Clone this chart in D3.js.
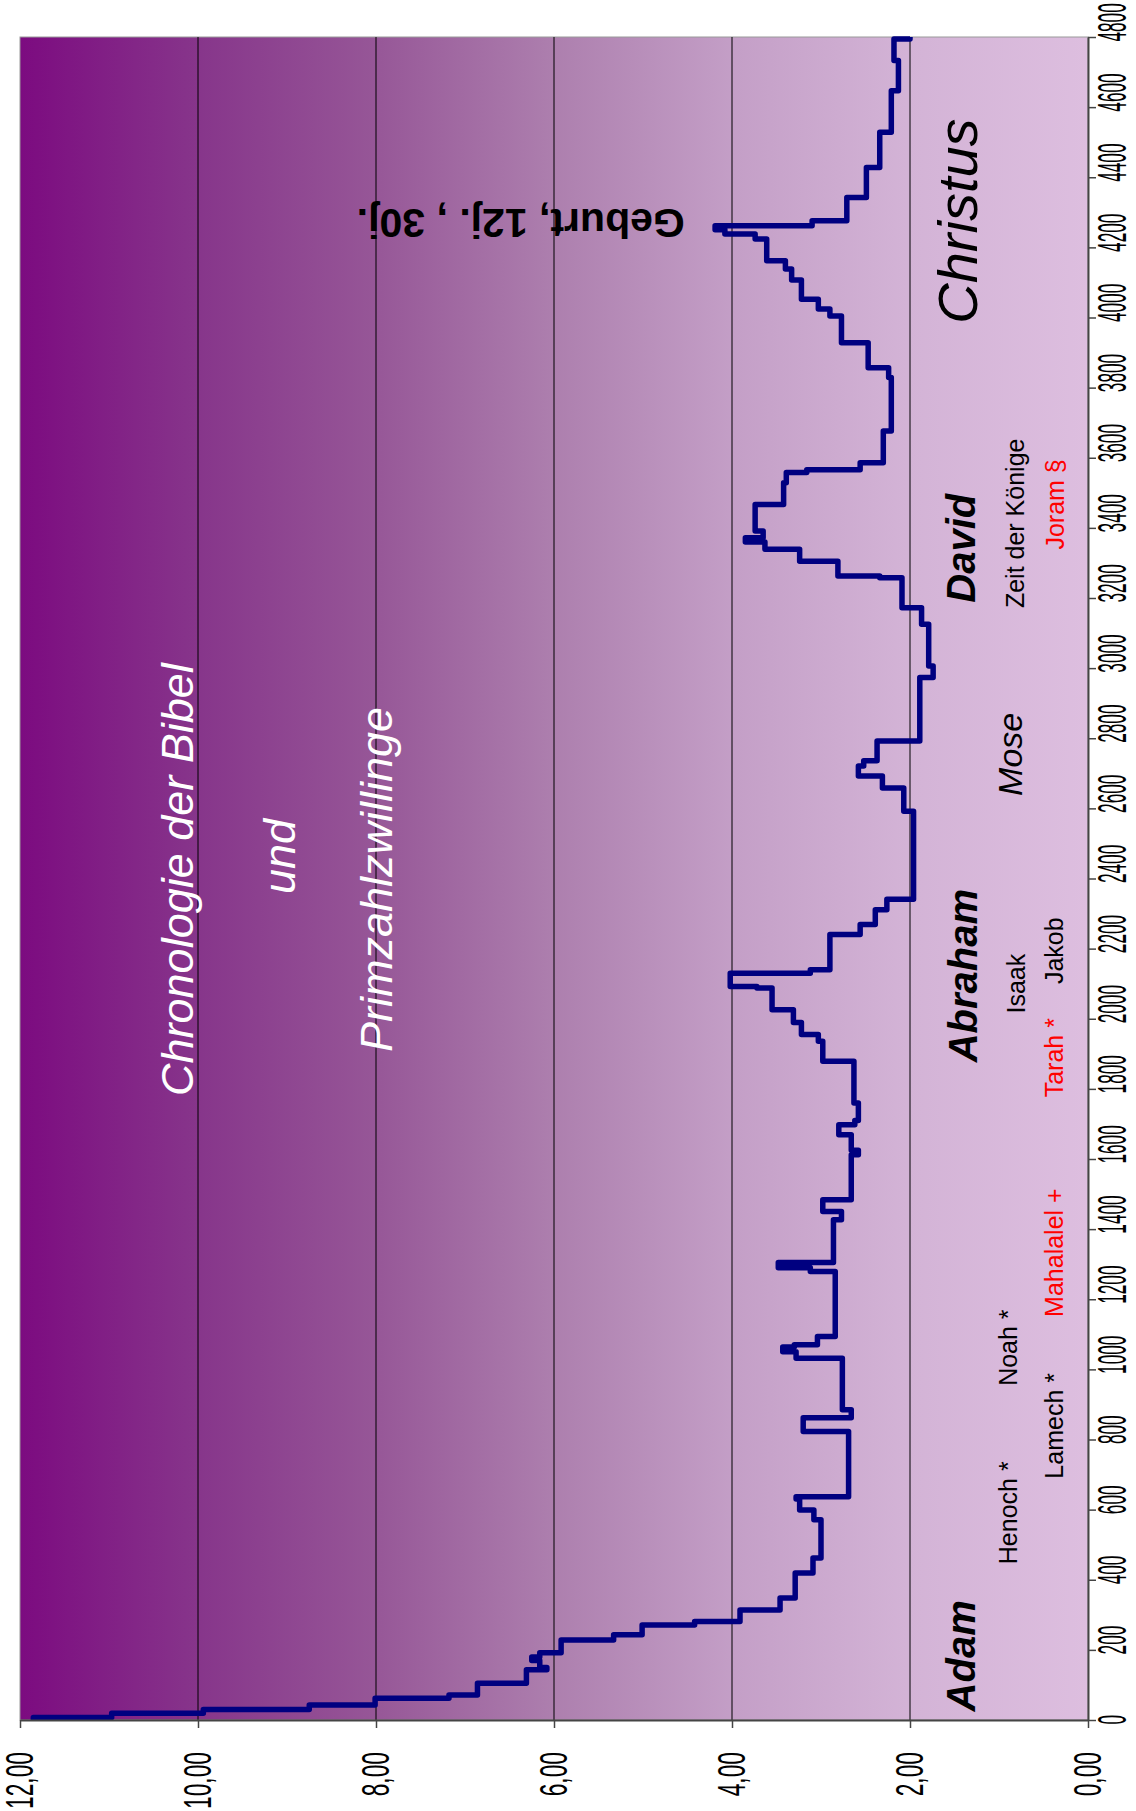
<!DOCTYPE html>
<html>
<head>
<meta charset="utf-8">
<script src="https://cdn.jsdelivr.net/npm/d3@7/dist/d3.min.js"></script>
<style>
  body { margin: 0; background: #fff; }
  svg { display: block; font-family: 'Liberation Sans', Arial, sans-serif; }
</style>
</head>
<body>
<svg id="chart" width="1136" height="1811"></svg>
<script>
// year at which each step starts, and the value held from there on
const years = [
    0, 7, 19, 30, 43, 62, 71, 105, 143, 150, 170, 180, 192, 228, 243, 271, 281, 314, 348, 419,
    462, 571, 599, 630, 637, 823, 862, 885, 1032, 1050, 1064, 1070, 1094, 1279, 1290, 1305, 1427, 1450, 1484, 1612,
    1625, 1669, 1698, 1710, 1760, 1879, 1936, 1955, 1989, 2026, 2088, 2092, 2130, 2140, 2240, 2269, 2311, 2341, 2592, 2658,
    2692, 2721, 2736, 2792, 2973, 3006, 3125, 3172, 3258, 3263, 3305, 3339, 3360, 3372, 3391, 3467, 3529, 3558, 3566, 3586,
    3676, 3829, 3857, 3928, 4004, 4024, 4052, 4107, 4138, 4162, 4224, 4238, 4250, 4262, 4276, 4342, 4428, 4528, 4647, 4733,
    4794, 4800
];
const ratio = [
    11.85, 10.97, 9.94, 8.75, 8.01, 7.18, 6.86, 6.31, 6.08, 6.16, 6.25, 6.16, 5.92, 5.33, 5.01, 4.42, 3.91, 3.46, 3.29, 3.09,
    3.00, 3.08, 3.24, 3.28, 2.69, 3.20, 2.66, 2.76, 3.28, 3.43, 3.30, 3.04, 2.84, 3.12, 3.48, 2.86, 2.77, 2.98, 2.66, 2.58,
    2.66, 2.80, 2.62, 2.58, 2.63, 2.98, 3.03, 3.22, 3.31, 3.55, 3.72, 4.02, 3.12, 2.90, 2.56, 2.39, 2.26, 1.96, 2.07, 2.31,
    2.58, 2.52, 2.37, 1.89, 1.74, 1.79, 1.87, 2.09, 2.34, 2.81, 3.24, 3.63, 3.85, 3.65, 3.74, 3.42, 3.39, 3.16, 2.56, 2.30,
    2.21, 2.24, 2.47, 2.77, 2.90, 3.03, 3.22, 3.33, 3.40, 3.61, 3.74, 4.08, 4.19, 3.10, 2.71, 2.49, 2.34, 2.21, 2.13, 2.18,
    2.00, 2.00
];
const yearTicks = d3.range(0, 4801, 200);
const valueTicks = [0, 2, 4, 6, 8, 10, 12];
const gridValues = [2, 4, 6, 8, 10];

// annotation texts
const titleLines = ['Chronologie der Bibel', 'und', 'Primzahlzwillinge'];
const names = ['Adam', 'Henoch *', 'Lamech *', 'Noah *', 'Mahalalel +', 'Tarah *', 'Abraham', 'Isaak', 'Jakob',
    'Mose', 'David', 'Zeit der Könige', 'Joram §', 'Christus'];

const svg = d3.select('#chart');
const plotLeft = 20, plotRight = 1088, plotTop = 37, plotBottom = 1720;

// the chart is drawn turned on its side: time runs upward, value runs leftward
const xVal = d3.scaleLinear().domain([0, 12]).range([plotRight, plotLeft]);
const yYear = d3.scaleLinear().domain([0, 4800]).range([plotBottom, plotTop]);

const defs = svg.append('defs');
const grad = defs.append('linearGradient').attr('id', 'bg')
    .attr('x1', 0).attr('x2', 1).attr('y1', 0).attr('y2', 0);
[[0, '#7c0b80'], [0.17, '#87368b'], [0.33, '#965697'], [0.5, '#ad7fae'],
 [0.67, '#c49fc7'], [0.83, '#d3b3d6'], [1, '#ddbedf']].forEach(s => {
    grad.append('stop').attr('offset', s[0]).attr('stop-color', s[1]);
});

svg.append('rect')
    .attr('x', plotLeft).attr('y', plotTop)
    .attr('width', plotRight - plotLeft).attr('height', plotBottom - plotTop)
    .attr('fill', 'url(#bg)')
    .attr('stroke', '#9a9a9a').attr('stroke-width', 1);

svg.append('g').selectAll('line')
    .data(gridValues)
    .enter().append('line')
    .attr('x1', d => xVal(d)).attr('x2', d => xVal(d))
    .attr('y1', plotTop).attr('y2', plotBottom)
    .attr('stroke', '#000').attr('stroke-width', 1);

// titles (year = centre along the time axis, val = baseline)
const titleSpec = [
    { year: 2397, val: 10.06 },
    { year: 2463, val: 8.91 },
    { year: 2397, val: 7.82 }
];
svg.append('g').selectAll('text')
    .data(titleLines)
    .enter().append('text')
    .attr('transform', (d, i) => `translate(${xVal(titleSpec[i].val)},${yYear(titleSpec[i].year)}) rotate(-90)`)
    .attr('text-anchor', 'middle')
    .attr('fill', '#fff')
    .attr('font-size', 45)
    .attr('font-style', 'italic')
    .text(d => d);

// names along the time axis
const nameSpec = {
    'Adam':            { year: 183,  val: 1.27, size: 40, bold: true,  italic: true,  color: '#000' },
    'Henoch *':        { year: 591,  val: 0.80, size: 25, color: '#000' },
    'Lamech *':        { year: 839,  val: 0.28, size: 25, color: '#000' },
    'Noah *':          { year: 1062, val: 0.80, size: 25, color: '#000' },
    'Mahalalel +':     { year: 1333, val: 0.28, size: 25, color: '#ff0000' },
    'Tarah *':         { year: 1889, val: 0.28, size: 25, color: '#ff0000' },
    'Abraham':         { year: 2123, val: 1.25, size: 40, bold: true,  italic: true,  color: '#000' },
    'Isaak':           { year: 2100, val: 0.71, size: 25, color: '#000' },
    'Jakob':           { year: 2194, val: 0.28, size: 25, color: '#000' },
    'Mose':            { year: 2754, val: 0.74, size: 34, italic: true, color: '#000' },
    'David':           { year: 3342, val: 1.27, size: 40, bold: true,  italic: true,  color: '#000' },
    'Zeit der Könige': { year: 3413, val: 0.72, size: 25, color: '#000' },
    'Joram §':         { year: 3467, val: 0.27, size: 25, color: '#ff0000' },
    'Christus':        { year: 4275, val: 1.25, size: 56, italic: true, color: '#000' }
};
svg.append('g').selectAll('text')
    .data(names)
    .enter().append('text')
    .attr('transform', d => `translate(${xVal(nameSpec[d].val)},${yYear(nameSpec[d].year)}) rotate(-90)`)
    .attr('text-anchor', 'middle')
    .attr('fill', d => nameSpec[d].color)
    .attr('font-size', d => nameSpec[d].size)
    .attr('font-weight', d => nameSpec[d].bold ? 'bold' : 'normal')
    .attr('font-style', d => nameSpec[d].italic ? 'italic' : 'normal')
    .text(d => d);

// upside-down note next to the peak
svg.append('text')
    .attr('transform', `translate(${xVal(4.53)},${yYear(4310)}) rotate(180)`)
    .attr('fill', '#000')
    .attr('font-size', 41)
    .attr('font-weight', 'bold')
    .text('Geburt, 12j. , 30j.');

// step line
const series = years.map((t, i) => ({ t: t, v: ratio[i] }));
const line = d3.line()
    .x(d => xVal(d.v))
    .y(d => yYear(d.t))
    .curve(d3.curveStepBefore);

svg.append('path')
    .datum(series)
    .attr('d', line)
    .attr('fill', 'none')
    .attr('stroke', '#000080')
    .attr('stroke-width', 5.5)
    .attr('stroke-linejoin', 'round');

// axes
const de = d3.formatLocale({ decimal: ',', thousands: '.', grouping: [3], currency: ['', ' €'] });
const fmtVal = de.format('.2f');

const yearAxis = svg.append('g')
    .attr('transform', `translate(${plotRight},0)`)
    .call(d3.axisRight(yYear).tickValues(yearTicks).tickFormat(d3.format('d')).tickSize(8).tickSizeOuter(0));

const valAxis = svg.append('g')
    .attr('transform', `translate(0,${plotBottom})`)
    .call(d3.axisBottom(xVal).tickValues(valueTicks).tickFormat(fmtVal).tickSize(8).tickSizeOuter(0));

[yearAxis, valAxis].forEach(ax => {
    ax.select('.domain').attr('stroke', '#444').attr('stroke-width', 2);
    ax.selectAll('.tick line').attr('stroke', '#444').attr('stroke-width', 1.5);
    ax.selectAll('.tick text')
        .attr('fill', '#000')
        .attr('font-family', "'Liberation Sans', Arial, sans-serif");
});

// tick labels are set on their side, in a narrow face
yearAxis.selectAll('.tick text')
    .attr('x', null).attr('dy', null)
    .attr('font-size', 40)
    .attr('text-anchor', 'start')
    .attr('dominant-baseline', 'central')
    .attr('transform', 'translate(24,4) rotate(-90) scale(0.43,1)');

valAxis.selectAll('.tick text')
    .attr('y', null).attr('dy', null)
    .attr('font-size', 38)
    .attr('text-anchor', 'end')
    .attr('dominant-baseline', 'central')
    .attr('transform', 'translate(0,32) rotate(-90) scale(0.6,1)');
</script>
</body>
</html>
